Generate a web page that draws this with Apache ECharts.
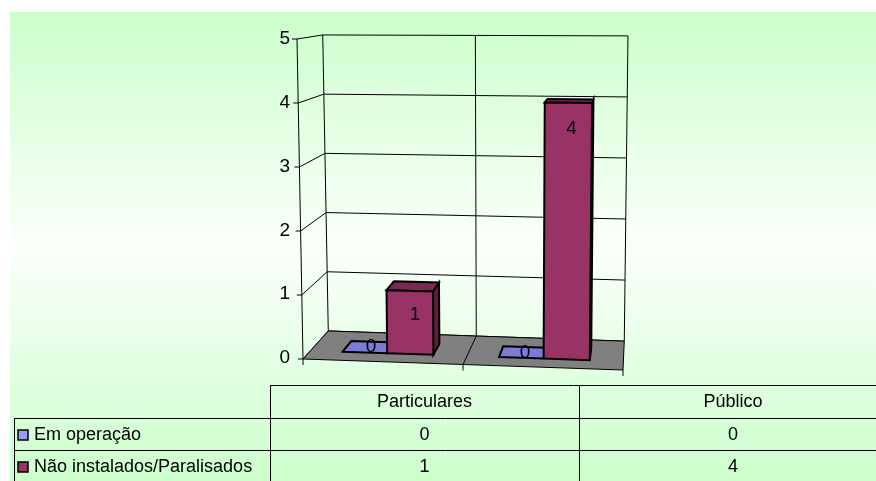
<!DOCTYPE html>
<html>
<head>
<meta charset="utf-8">
<script src="https://cdn.jsdelivr.net/npm/echarts@6/dist/echarts.min.js"></script>
<style>
  html, body { margin: 0; padding: 0; background: #fff; }
  #chart { width: 876px; height: 481px; }
</style>
</head>
<body>
<div id="chart"></div>
<script>
  // dados
  const categories = ['Particulares', 'Público'];
  const seriesNames = ['Em operação', 'Não instalados/Paralisados'];
  const emOperacao = [0, 0];
  const naoInstalados = [1, 4];
  const yTicks = [0, 1, 2, 3, 4, 5];

  const FONT = 'Liberation Sans, Arial, sans-serif';
  const K = 0.075; // profundidade da perspectiva
  const D0 = 0.3, D1 = 0.68; // profundidade das barras

  const colors = [
    { front: '#9999ff', top: '#7b7bd8', side: '#6262b0' },
    { front: '#993366', top: '#7a2952', side: '#5c1f3d' },
  ];

  // projeção simples em perspectiva a partir do retângulo do grid
  function makeProj(cs) {
    const bl = [cs.x, cs.y + cs.height + 1];
    const br = [cs.x + cs.width, cs.y + cs.height + 12];
    const tl = [cs.x - 6, cs.y];
    const tr = [cs.x + cs.width + 4, cs.y + 1];
    const vp = [cs.x + cs.width + 17, cs.y - 54];
    return function (px, py, d) {
      const u = (px - cs.x) / cs.width;
      const t = (cs.y + cs.height - py) / cs.height;
      const bx = bl[0] + (br[0] - bl[0]) * u, by = bl[1] + (br[1] - bl[1]) * u;
      const tx = tl[0] + (tr[0] - tl[0]) * u, ty = tl[1] + (tr[1] - tl[1]) * u;
      const fx = bx + (tx - bx) * t, fy = by + (ty - by) * t;
      return [fx + (vp[0] - fx) * K * d, fy + (vp[1] - fy) * K * d];
    };
  }

  const lineStyle = { stroke: '#000', lineWidth: 1, fill: null };

  function line(a, b, style) {
    return { type: 'line', shape: { x1: a[0], y1: a[1], x2: b[0], y2: b[1] }, style: style || lineStyle };
  }

  function poly(points, fill, lw) {
    return { type: 'polygon', shape: { points: points }, style: { fill: fill, stroke: '#000', lineWidth: lw } };
  }

  // paredes: linhas de grade ao fundo + ligação com o eixo da frente
  const renderWall = (params, api) => {
    const cs = params.coordSys;
    const proj = makeProj(cs);
    const y = api.coord([0, api.value(1)])[1];
    const left = cs.x, right = cs.x + cs.width, mid = cs.x + cs.width / 2;
    const front = proj(left, y, 0);
    return {
      type: 'group',
      children: [
        line(proj(left, y, 1), proj(right, y, 1)),
        line(front, proj(left, y, 1)),
        line(front, [front[0] - 5, front[1]]),
      ],
    };
  };

  const renderFloor = (params, api) => {
    const cs = params.coordSys;
    const proj = makeProj(cs);
    const base = cs.y + cs.height, top = cs.y;
    const left = cs.x, right = cs.x + cs.width, mid = cs.x + cs.width / 2;
    const children = [
      line(proj(left, base, 1), proj(left, top, 1)),
      line(proj(mid, base, 1), proj(mid, top, 1)),
      line(proj(right, base, 1), proj(right, top, 1)),
      poly([proj(left, base, 0), proj(right, base, 0), proj(right, base, 1), proj(left, base, 1)], '#808080', 1),
      line(proj(mid, base, 0), proj(mid, base, 1)),
      line(proj(left, base, 0), proj(left, top, 0)),
    ];
    [left, mid, right].forEach((x) => {
      const p = proj(x, base, 0);
      children.push(line(p, [p[0], p[1] + 6]));
    });
    return { type: 'group', children: children };
  };

  const makeBarRenderer = (s) => (params, api) => {
    const cs = params.coordSys;
    const proj = makeProj(cs);
    const i = api.value(0), v = api.value(1);
    const c = api.coord([i, 0]);
    const base = c[1];
    const top = api.coord([i, v])[1];
    const band = api.size([1, 0])[0];
    const x0 = s === 0 ? c[0] - 0.295 * band : c[0] - 0.01 * band;
    const x1 = s === 0 ? c[0] - 0.01 * band : c[0] + 0.285 * band;
    const col = colors[s];
    const topFace = [proj(x0, top, D0), proj(x1, top, D0), proj(x1, top, D1), proj(x0, top, D1)];
    const children = [];
    if (v > 0) {
      children.push(poly([proj(x1, base, D0), proj(x1, top, D0), proj(x1, top, D1), proj(x1, base, D1)], col.side, 2));
    }
    children.push(poly(topFace, v > 0 ? col.top : col.top, 2));
    if (v > 0) {
      children.push(poly([proj(x0, base, D0), proj(x1, base, D0), proj(x1, top, D0), proj(x0, top, D0)], col.front, 2));
    }
    const cx = topFace.reduce((a, p) => a + p[0], 0) / 4;
    const cy = topFace.reduce((a, p) => a + p[1], 0) / 4;
    children.push({
      type: 'text',
      style: {
        text: String(v),
        x: cx + 2,
        y: cy + (v > 0 ? 28 : 0),
        fill: '#000',
        font: '19px ' + FONT,
        align: 'center',
        verticalAlign: 'middle',
      },
    });
    return { type: 'group', children: children };
  };

  // tabela de dados embaixo do gráfico
  const buildTable = () => {
    const xL = 14, xH = 270, xS = 579, xR = 887;
    const rows = [385, 418, 450, 482];
    const colCenters = [(xH + xS) / 2, (xS + xR) / 2];
    const values = [emOperacao, naoInstalados];
    const els = [];
    const hl = (x1, x2, y) => ({ type: 'line', shape: { x1: x1, y1: y + 0.5, x2: x2, y2: y + 0.5 }, style: { stroke: '#000', lineWidth: 1 } });
    const vl = (x, y1, y2) => ({ type: 'line', shape: { x1: x + 0.5, y1: y1, x2: x + 0.5, y2: y2 }, style: { stroke: '#000', lineWidth: 1 } });
    els.push(hl(xH, xR, rows[0]), hl(xL, xR, rows[1]), hl(xL, xR, rows[2]));
    els.push(vl(xL, rows[1], rows[3]), vl(xH, rows[0], rows[3]), vl(xS, rows[0], rows[3]));
    const txt = (t, x, y, align) => ({
      type: 'text',
      style: { text: t, x: x, y: y, fill: '#000', font: '18px ' + FONT, align: align, verticalAlign: 'middle' },
    });
    categories.forEach((cat, j) => els.push(txt(cat, colCenters[j], (rows[0] + rows[1]) / 2 + 1, 'center')));
    seriesNames.forEach((name, s) => {
      const yc = (rows[s + 1] + rows[s + 2]) / 2 + 1;
      els.push({
        type: 'rect',
        shape: { x: 18, y: yc - 5, width: 10, height: 10 },
        style: { fill: colors[s].front, stroke: '#000', lineWidth: 1.5 },
      });
      els.push(txt(name, 34, yc, 'left'));
      values[s].forEach((val, j) => els.push(txt(String(val), colCenters[j], yc, 'center')));
    });
    return { type: 'group', z: 10, children: els };
  };

  const chart = echarts.init(document.getElementById('chart'));

  const option = {
    animation: false,
    backgroundColor: '#fff',
    graphic: [
      {
        type: 'rect',
        z: -10,
        shape: { x: 10, y: 12, width: 866, height: 469 },
        style: {
          fill: new echarts.graphic.LinearGradient(0, 0, 0, 1, [
            { offset: 0, color: '#ccffcc' },
            { offset: 0.5, color: '#fbfffb' },
            { offset: 1, color: '#ccffcc' },
          ]),
        },
      },
      buildTable(),
    ],
    grid: { left: 303, top: 39, width: 320, height: 319 },
    xAxis: { type: 'category', data: categories, show: false },
    yAxis: {
      type: 'value',
      min: 0,
      max: 5,
      interval: 1,
      axisLine: { show: false },
      axisTick: { show: false },
      splitLine: { show: false },
      axisLabel: { color: '#000', fontSize: 19, fontFamily: FONT, margin: 13 },
    },
    series: [
      { type: 'custom', name: 'parede', renderItem: renderWall, data: yTicks.map((v) => [0, v]), silent: true },
      { type: 'custom', name: 'piso', renderItem: renderFloor, data: [[0, 0]], silent: true },
      { type: 'custom', name: seriesNames[0], renderItem: makeBarRenderer(0), data: emOperacao.map((v, i) => [i, v]) },
      { type: 'custom', name: seriesNames[1], renderItem: makeBarRenderer(1), data: naoInstalados.map((v, i) => [i, v]) },
    ],
  };

  chart.setOption(option);
</script>
</body>
</html>
